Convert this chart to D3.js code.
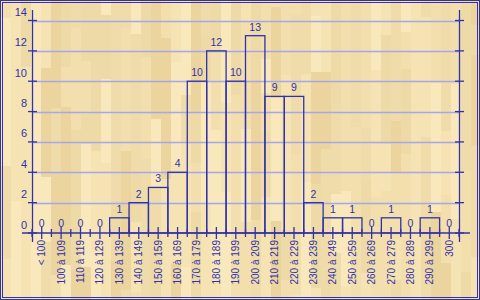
<!DOCTYPE html>
<html><head><meta charset="utf-8">
<script src="https://cdn.jsdelivr.net/npm/d3@7"></script>
<style>body{margin:0;background:#fff}svg{display:block}</style>
</head><body>
<svg id="c" width="480" height="300"></svg>
<script>
const categories = ["< 100","100 à 109","110 à 119","120 à 129","130 à 139","140 à 149","150 à 159","160 à 169","170 à 179","180 à 189","190 à 199","200 à 209","210 à 219","220 à 229","230 à 239","240 à 249","250 à 259","260 à 269","270 à 279","280 à 289","290 à 299","300"];
const counts = [0,0,0,0,1,2,3,4,10,12,10,13,9,9,2,1,1,0,1,0,1,0];
const yTicks = [0,2,4,6,8,10,12,14];

const blue = "#3232a8", grid = "#a4a8ea";
const svg = d3.select("#c");

// wood parquet background (decoration)
const woodColors = ["#f5e3b3","#eedaa6","#ebd49e","#f2dfad","#f8e8bb","#f0dcaa"];
let seed = 7;
function nxt(){ seed = (seed*1103515245 + 12345) % 2147483648; return seed/2147483648; }
const bg = svg.append("g");
bg.append("rect").attr("x",0).attr("y",0).attr("width",480).attr("height",300).attr("fill","#f0dca9");
for (let x = 1; x < 480; x += 10) {
  let y = -Math.floor(nxt()*80);
  while (y < 300) {
    const h = 30 + Math.floor(nxt()*120);
    bg.append("rect").attr("x",x).attr("y",y).attr("width",10).attr("height",h)
      .attr("fill",woodColors[Math.floor(nxt()*woodColors.length)]);
    y += h;
  }
}

// frame
svg.append("rect").attr("x",0.5).attr("y",0.5).attr("width",479).attr("height",299)
  .attr("fill","none").attr("stroke",blue).attr("stroke-width",1);
svg.append("rect").attr("x",2.5).attr("y",2.5).attr("width",475).attr("height",295)
  .attr("fill","none").attr("stroke",blue).attr("stroke-width",1);

const x = d3.scaleBand().domain(categories).range([32, 459]).padding(0);
const y = d3.scaleLinear().domain([0,14]).range([233, 20.5]);

// gridlines
svg.append("g").selectAll("line").data(yTicks.filter(d=>d>0)).join("line")
  .attr("x1",32).attr("x2",459).attr("y1",d=>Math.round(y(d))+0.5).attr("y2",d=>Math.round(y(d))+0.5)
  .attr("stroke",grid).attr("stroke-width",1.3);

// bars
svg.append("g").selectAll("rect").data(categories.map((c,i)=>({c,v:counts[i]})).filter(d=>d.v>0)).join("rect")
  .attr("x",d=>x(d.c)).attr("width",x.bandwidth())
  .attr("y",d=>y(d.v)).attr("height",d=>y(0)-y(d.v))
  .attr("fill","none").attr("stroke",blue).attr("stroke-width",1.3);

// value labels
svg.append("g").selectAll("text").data(categories.map((c,i)=>({c,v:counts[i]}))).join("text")
  .attr("x",d=>x(d.c)+x.bandwidth()/2).attr("y",d=>y(d.v)-(d.v===0?6:5))
  .attr("text-anchor","middle").attr("font-family","Liberation Sans, Arial, sans-serif")
  .attr("font-size",10.5).attr("fill",blue).text(d=>d.v);

// axes lines
const axes = svg.append("g").attr("stroke",blue).attr("stroke-width",1.3);
axes.append("line").attr("x1",32.5).attr("x2",32.5).attr("y1",10).attr("y2",242);
axes.append("line").attr("x1",459.5).attr("x2",459.5).attr("y1",10).attr("y2",242);
axes.append("line").attr("x1",22).attr("x2",470).attr("y1",233).attr("y2",233);
// y ticks
yTicks.forEach(t=>{
  axes.append("line").attr("x1",28).attr("x2",37).attr("y1",y(t)).attr("y2",y(t));
  axes.append("line").attr("x1",455).attr("x2",464).attr("y1",y(t)).attr("y2",y(t));
});
// x ticks: band edges and centres
const edges = categories.map(c=>x(c)).concat([x(categories[categories.length-1])+x.bandwidth()]);
edges.forEach(e=>axes.append("line").attr("x1",e).attr("x2",e).attr("y1",229).attr("y2",237));
categories.forEach(c=>{const cx=x(c)+x.bandwidth()/2;
  axes.append("line").attr("x1",cx).attr("x2",cx).attr("y1",227).attr("y2",239);});

// y labels
svg.append("g").selectAll("text").data(yTicks).join("text")
  .attr("x",27).attr("y",d=>y(d)-4.5).attr("text-anchor","end")
  .attr("font-family","Liberation Sans, Arial, sans-serif").attr("font-size",11).attr("fill",blue)
  .text(d=>d);

// x labels (rotated)
svg.append("g").selectAll("text").data(categories).join("text")
  .attr("transform",d=>`translate(${x(d)+x.bandwidth()/2},240) rotate(-90)`)
  .attr("dy","0.35em").attr("text-anchor","end")
  .attr("font-family","Liberation Sans, Arial, sans-serif").attr("font-size",10).attr("fill",blue)
  .text(d=>d);
</script>
</body></html>
